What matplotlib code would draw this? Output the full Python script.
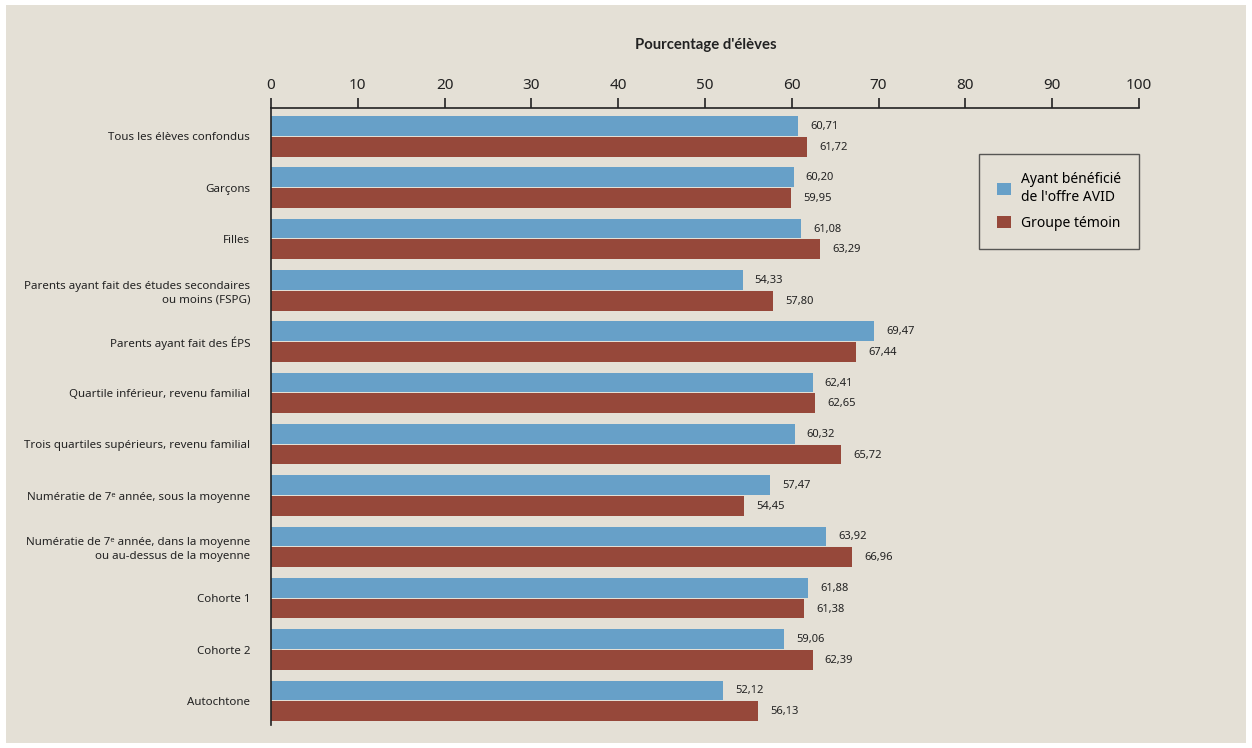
import matplotlib.pyplot as plt
import matplotlib.patches as mpatches
import numpy as np

plt.rcParams['font.family'] = ['Noto Sans', 'DejaVu Sans']

categories = [
    "Tous les élèves confondus",
    "Garçons",
    "Filles",
    "Parents ayant fait des études secondaires\nou moins (FSPG)",
    "Parents ayant fait des ÉPS",
    "Quartile inférieur, revenu familial",
    "Trois quartiles supérieurs, revenu familial",
    "Numératie de 7ᵉ année, sous la moyenne",
    "Numératie de 7ᵉ année, dans la moyenne\nou au-dessus de la moyenne",
    "Cohorte 1",
    "Cohorte 2",
    "Autochtone",
]
avid = [60.71, 60.20, 61.08, 54.33, 69.47, 62.41, 60.32, 57.47, 63.92, 61.88, 59.06, 52.12]
temoin = [61.72, 59.95, 63.29, 57.80, 67.44, 62.65, 65.72, 54.45, 66.96, 61.38, 62.39, 56.13]
series_names = ["Ayant bénéficié\nde l'offre AVID", "Groupe témoin"]

blue = "#67a0c8"
red = "#96483a"
bg = "#e4e0d6"

fig = plt.figure(figsize=(12.52, 7.48), dpi=100, facecolor="white")
fig.patches.append(mpatches.Rectangle((6/1252, 5/748), 1 - 12/1252, 1 - 10/748,
                                      transform=fig.transFigure, facecolor=bg,
                                      edgecolor="none", zorder=-10))
ax = fig.add_axes([271/1252, 23/748, 868/1252, 617/748])
ax.set_facecolor(bg)

y = np.arange(len(categories))
h = 0.385
ax.barh(y - h/2 - 0.01, avid, height=h, color=blue, label=series_names[0])
ax.barh(y + h/2 + 0.01, temoin, height=h, color=red, label=series_names[1])

for yi, v in zip(y, avid):
    ax.text(v + 1.4, yi - h/2, f"{v:.2f}".replace(".", ","), va="center", ha="left",
            fontsize=8, color="#222222")
for yi, v in zip(y, temoin):
    ax.text(v + 1.4, yi + h/2 + 0.02, f"{v:.2f}".replace(".", ","), va="center", ha="left",
            fontsize=8, color="#222222")

ax.set_xlim(0, 100)
ax.set_ylim(11.47, -0.55)
ax.set_xticks(range(0, 101, 10))
ax.xaxis.tick_top()
ax.tick_params(axis="x", direction="out", length=7, width=1.2, labelsize=11,
               pad=4, color="#222222", labelcolor="#222222")
ax.set_yticks(y)
ax.set_yticklabels(categories, fontsize=8.3, color="#222222", linespacing=1.35)
ax.tick_params(axis="y", length=0, pad=15)
for s in ["right", "bottom"]:
    ax.spines[s].set_visible(False)
for s in ["top", "left"]:
    ax.spines[s].set_linewidth(1.2)
    ax.spines[s].set_color("#222222")

fig.text(706/1252, 1 - 45/748, "Pourcentage d'élèves", ha="center", va="center",
         fontsize=10.7, fontweight="bold", family=["Lato", "DejaVu Sans"], color="#222222")

leg = ax.legend(loc="upper left", bbox_to_anchor=(0.816, 0.925), frameon=True,
                fancybox=False, fontsize=10, handlelength=1.0, handleheight=1.0,
                borderpad=1.3, labelspacing=0.8, handletextpad=0.7, borderaxespad=0)
leg.get_frame().set_edgecolor("#333333")
leg.get_frame().set_facecolor(bg)
leg.get_frame().set_linewidth(1.0)

fig.savefig("out.png", dpi=100, facecolor=fig.get_facecolor())
